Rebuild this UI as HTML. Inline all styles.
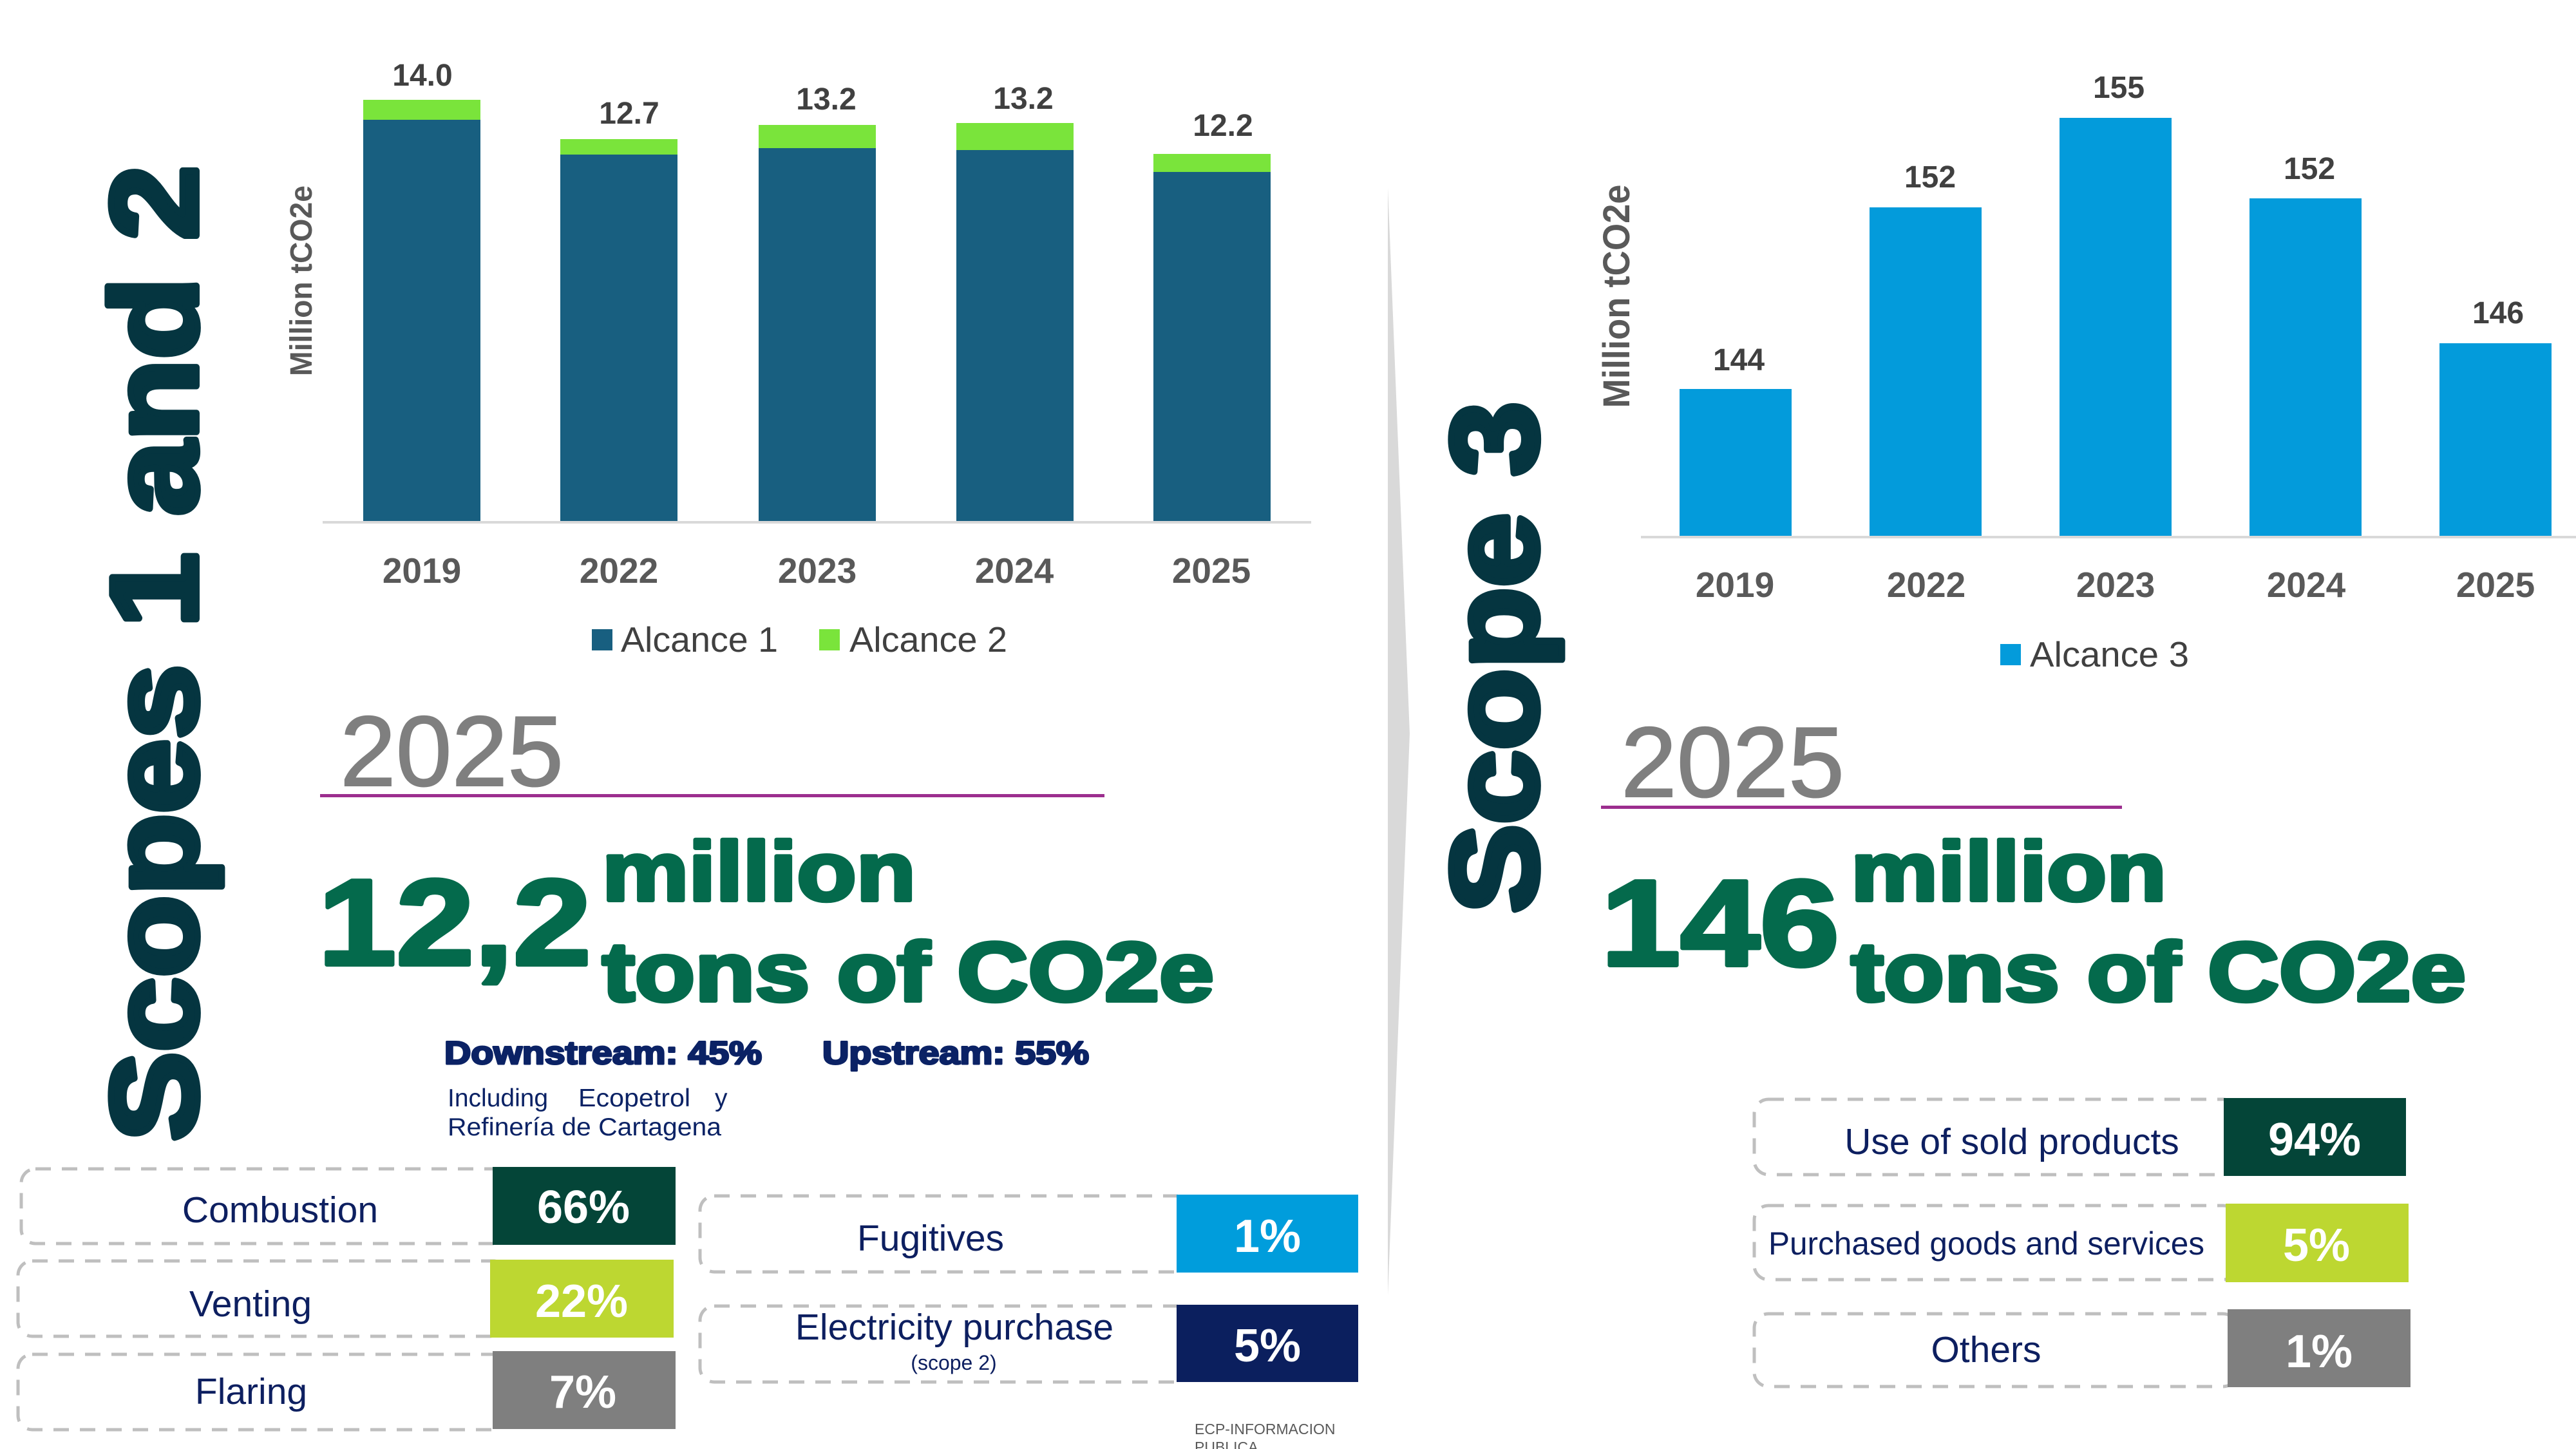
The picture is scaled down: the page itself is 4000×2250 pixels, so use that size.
<!DOCTYPE html>
<html>
<head>
<meta charset="utf-8">
<style>
  html,body{margin:0;padding:0;background:#fff;}
  svg{display:block;}
</style>
</head>
<body>
<svg width="4000" height="2250" viewBox="0 0 4000 2250" xmlns="http://www.w3.org/2000/svg" font-family="'Liberation Sans', Arial, sans-serif">
  <rect x="0" y="0" width="4000" height="2250" fill="#ffffff"/>

  <!-- ===== LEFT TITLE ===== -->
  <g transform="translate(305,1772) rotate(-90)">
    <text x="0" y="0" font-size="190" font-weight="bold" fill="#053540" stroke="#053540" stroke-width="10" stroke-linejoin="round" textLength="1515" lengthAdjust="spacingAndGlyphs">Scopes 1 and 2</text>
  </g>

  <!-- ===== LEFT CHART ===== -->
  <g transform="translate(484,436) rotate(-90)">
    <text x="0" y="0" font-size="48" font-weight="bold" fill="#595959" text-anchor="middle" textLength="296" lengthAdjust="spacingAndGlyphs">Million tCO2e</text>
  </g>

  <!-- bars -->
  <rect x="564" y="186" width="182" height="623" fill="#185f80"/>
  <rect x="564" y="155" width="182" height="31" fill="#7ae43b"/>
  <rect x="870" y="240" width="182" height="569" fill="#185f80"/>
  <rect x="870" y="216" width="182" height="24" fill="#7ae43b"/>
  <rect x="1178" y="230" width="182" height="579" fill="#185f80"/>
  <rect x="1178" y="194" width="182" height="36" fill="#7ae43b"/>
  <rect x="1485" y="233" width="182" height="576" fill="#185f80"/>
  <rect x="1485" y="191" width="182" height="42" fill="#7ae43b"/>
  <rect x="1791" y="267" width="182" height="542" fill="#185f80"/>
  <rect x="1791" y="239" width="182" height="28" fill="#7ae43b"/>
  <line x1="501" y1="811" x2="2036" y2="811" stroke="#d9d9d9" stroke-width="4"/>

  <g font-size="48" font-weight="bold" fill="#404040" text-anchor="middle">
    <text x="656" y="133">14.0</text>
    <text x="977" y="192">12.7</text>
    <text x="1283" y="170">13.2</text>
    <text x="1589" y="169">13.2</text>
    <text x="1899" y="211">12.2</text>
  </g>
  <g font-size="55" font-weight="bold" fill="#595959" text-anchor="middle">
    <text x="655" y="905">2019</text>
    <text x="961" y="905">2022</text>
    <text x="1269" y="905">2023</text>
    <text x="1575" y="905">2024</text>
    <text x="1881" y="905">2025</text>
  </g>
  <!-- legend -->
  <rect x="919" y="977" width="32" height="33" fill="#185f80"/>
  <text x="964" y="1012" font-size="55" fill="#404040" textLength="244" lengthAdjust="spacingAndGlyphs">Alcance 1</text>
  <rect x="1272" y="977" width="32" height="33" fill="#7ae43b"/>
  <text x="1319" y="1012" font-size="55" fill="#404040" textLength="245" lengthAdjust="spacingAndGlyphs">Alcance 2</text>

  <!-- ===== LEFT SUMMARY ===== -->
  <text x="528" y="1220" font-size="155" fill="#7f7f7f" stroke="#7f7f7f" stroke-width="2" textLength="347" lengthAdjust="spacingAndGlyphs">2025</text>
  <rect x="497" y="1233" width="1218" height="5" fill="#9c2e8e"/>

  <g fill="#046a4c" stroke="#046a4c" stroke-linejoin="round" font-weight="bold">
    <text x="494" y="1498" font-size="190" stroke-width="6" textLength="424" lengthAdjust="spacingAndGlyphs">12,2</text>
    <text x="935" y="1398" font-size="130" stroke-width="6" textLength="487" lengthAdjust="spacingAndGlyphs">million</text>
    <text x="935" y="1554" font-size="130" stroke-width="6" textLength="950" lengthAdjust="spacingAndGlyphs">tons of CO2e</text>
  </g>

  <g fill="#0b2265" stroke="#0b2265" stroke-width="3" stroke-linejoin="round" font-weight="bold" font-size="50">
    <text x="690" y="1652" textLength="493" lengthAdjust="spacingAndGlyphs">Downstream: 45%</text>
    <text x="1277" y="1652" textLength="414" lengthAdjust="spacingAndGlyphs">Upstream: 55%</text>
  </g>
  <g fill="#0b2265" font-size="39">
    <text x="695" y="1718">Including</text>
    <text x="898" y="1718" textLength="174" lengthAdjust="spacingAndGlyphs">Ecopetrol</text>
    <text x="1110" y="1718">y</text>
    <text x="695" y="1763" textLength="425" lengthAdjust="spacingAndGlyphs">Refinería de Cartagena</text>
  </g>

  <!-- boxes -->
  <g fill="none" stroke="#bfbfbf" stroke-width="5" stroke-dasharray="24 17">
    <rect x="33" y="1815" width="760" height="116" rx="22"/>
    <rect x="28" y="1958" width="760" height="117" rx="22"/>
    <rect x="28" y="2103" width="760" height="117" rx="22"/>
    <rect x="1087" y="1857" width="760" height="118" rx="22"/>
    <rect x="1087" y="2028" width="760" height="118" rx="22"/>
    <rect x="2724" y="1707" width="750" height="117" rx="22"/>
    <rect x="2724" y="1872" width="750" height="115" rx="22"/>
    <rect x="2724" y="2040" width="750" height="113" rx="22"/>
  </g>
  <rect x="765" y="1812" width="284" height="121" fill="#044538"/>
  <rect x="761" y="1956" width="285" height="121" fill="#bdd731"/>
  <rect x="765" y="2098" width="284" height="121" fill="#7f7f7f"/>
  <rect x="1827" y="1855" width="282" height="121" fill="#009ddc"/>
  <rect x="1827" y="2026" width="282" height="120" fill="#0b1f5e"/>

  <g font-size="57" fill="#0d1f60" text-anchor="middle">
    <text x="435" y="1898">Combustion</text>
    <text x="389" y="2044">Venting</text>
    <text x="390" y="2180">Flaring</text>
    <text x="1445" y="1942">Fugitives</text>
    <text x="1482" y="2080">Electricity purchase</text>
    <text x="1481" y="2127" font-size="32">(scope 2)</text>
  </g>
  <g font-size="72" font-weight="bold" fill="#ffffff" text-anchor="middle">
    <text x="906" y="1899">66%</text>
    <text x="903" y="2045">22%</text>
    <text x="905" y="2186">7%</text>
    <text x="1968" y="1944">1%</text>
    <text x="1968" y="2114">5%</text>
  </g>

  <text x="1855" y="2227" font-size="23" fill="#595959">ECP-INFORMACION</text>
  <text x="1855" y="2255" font-size="23" fill="#595959">PUBLICA</text>

  <!-- ===== SEPARATOR ===== -->
  <polygon points="2155,291 2189,1139 2155,2012" fill="#d9d9d9"/>

  <!-- ===== RIGHT TITLE ===== -->
  <g transform="translate(2386,1418) rotate(-90)">
    <text x="0" y="0" font-size="190" font-weight="bold" fill="#053540" stroke="#053540" stroke-width="10" stroke-linejoin="round" textLength="794" lengthAdjust="spacingAndGlyphs">Scope 3</text>
  </g>

  <!-- ===== RIGHT CHART ===== -->
  <g transform="translate(2530,460) rotate(-90)">
    <text x="0" y="0" font-size="58" font-weight="bold" fill="#595959" text-anchor="middle" textLength="347" lengthAdjust="spacingAndGlyphs">Million tCO2e</text>
  </g>
  <rect x="2608" y="604" width="174" height="228" fill="#039bdb"/>
  <rect x="2903" y="322" width="174" height="510" fill="#039bdb"/>
  <rect x="3198" y="183" width="174" height="649" fill="#039bdb"/>
  <rect x="3493" y="308" width="174" height="524" fill="#039bdb"/>
  <rect x="3788" y="533" width="174" height="299" fill="#039bdb"/>
  <line x1="2548" y1="834" x2="4000" y2="834" stroke="#d9d9d9" stroke-width="4"/>

  <g font-size="48" font-weight="bold" fill="#404040" text-anchor="middle">
    <text x="2700" y="575">144</text>
    <text x="2997" y="291">152</text>
    <text x="3290" y="152">155</text>
    <text x="3586" y="278">152</text>
    <text x="3879" y="502">146</text>
  </g>
  <g font-size="55" font-weight="bold" fill="#595959" text-anchor="middle">
    <text x="2694" y="927">2019</text>
    <text x="2991" y="927">2022</text>
    <text x="3285" y="927">2023</text>
    <text x="3581" y="927">2024</text>
    <text x="3875" y="927">2025</text>
  </g>
  <rect x="3106" y="1000" width="32" height="33" fill="#039bdb"/>
  <text x="3152" y="1035" font-size="55" fill="#404040" textLength="247" lengthAdjust="spacingAndGlyphs">Alcance 3</text>

  <!-- ===== RIGHT SUMMARY ===== -->
  <text x="2517" y="1237" font-size="155" fill="#7f7f7f" stroke="#7f7f7f" stroke-width="2" textLength="347" lengthAdjust="spacingAndGlyphs">2025</text>
  <rect x="2486" y="1251" width="809" height="5" fill="#9c2e8e"/>

  <g fill="#046a4c" stroke="#046a4c" stroke-linejoin="round" font-weight="bold">
    <text x="2486" y="1499" font-size="190" stroke-width="6" textLength="370" lengthAdjust="spacingAndGlyphs">146</text>
    <text x="2874" y="1398" font-size="130" stroke-width="6" textLength="490" lengthAdjust="spacingAndGlyphs">million</text>
    <text x="2874" y="1554" font-size="130" stroke-width="6" textLength="955" lengthAdjust="spacingAndGlyphs">tons of CO2e</text>
  </g>

  <rect x="3453" y="1705" width="283" height="121" fill="#044538"/>
  <rect x="3456" y="1869" width="284" height="122" fill="#bdd731"/>
  <rect x="3459" y="2033" width="284" height="121" fill="#7f7f7f"/>

  <g font-size="57" fill="#0d1f60" text-anchor="middle">
    <text x="3124" y="1792">Use of sold products</text>
    <text x="3084" y="2115">Others</text>
  </g>
  <text x="2746" y="1948" font-size="50" fill="#0d1f60" textLength="677" lengthAdjust="spacingAndGlyphs">Purchased goods and services</text>
  <g font-size="72" font-weight="bold" fill="#ffffff" text-anchor="middle">
    <text x="3594" y="1794">94%</text>
    <text x="3597" y="1958">5%</text>
    <text x="3601" y="2123">1%</text>
  </g>
</svg>
</body>
</html>
